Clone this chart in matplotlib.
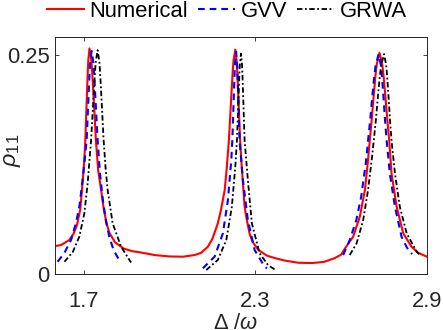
import matplotlib
matplotlib.use('Agg')
import matplotlib.pyplot as plt

# Numerical (full sweep)
num_x = [1.600, 1.621, 1.650, 1.665, 1.677, 1.6885, 1.6965, 1.702, 1.706, 1.7089, 1.7117, 1.7146, 1.7164,
         1.7205, 1.7268, 1.7297, 1.7342, 1.7385, 1.743, 1.751, 1.761, 1.770, 1.780, 1.790, 1.810,
         1.840, 1.870, 1.900, 1.950, 2.000, 2.047, 2.088, 2.110, 2.134, 2.150, 2.169, 2.180, 2.193,
         2.200, 2.2077, 2.2122, 2.2164, 2.2209, 2.2238, 2.230, 2.2348, 2.237, 2.2404, 2.2436, 2.247,
         2.252, 2.2627, 2.270, 2.280, 2.290, 2.310, 2.340, 2.370, 2.400, 2.450, 2.500, 2.540, 2.577,
         2.600, 2.613, 2.642, 2.665, 2.683, 2.694, 2.700, 2.7068, 2.7133, 2.7201, 2.7245, 2.734,
         2.7435, 2.7479, 2.7547, 2.7612, 2.768, 2.776, 2.794, 2.817, 2.846, 2.870, 2.900]
num_y = [0.0318, 0.033, 0.0387, 0.046, 0.056, 0.074, 0.105, 0.128, 0.152, 0.180, 0.2056, 0.231, 0.244,
         0.257, 0.244, 0.231, 0.2056, 0.180, 0.152, 0.118, 0.096, 0.075, 0.058, 0.047, 0.036,
         0.029, 0.026, 0.0245, 0.0215, 0.0200, 0.0197, 0.0216, 0.024, 0.031, 0.040, 0.0577, 0.073, 0.0956,
         0.120, 0.152, 0.179, 0.2045, 0.230, 0.243, 0.2556, 0.243, 0.230, 0.2045, 0.179, 0.152,
         0.125, 0.0766, 0.062, 0.046, 0.037, 0.0275, 0.021, 0.018, 0.0155, 0.0128, 0.0125, 0.0138, 0.018,
         0.022, 0.029, 0.0425, 0.065, 0.0956, 0.130, 0.152, 0.176, 0.2016, 0.2268, 0.239, 0.252,
         0.239, 0.2268, 0.2016, 0.176, 0.152, 0.1146, 0.0766, 0.0463, 0.031, 0.024, 0.0197]

# GVV, one piece per resonance
gvv_x1 = [1.609, 1.632, 1.656, 1.673, 1.685, 1.6965, 1.7105, 1.714, 1.7173, 1.7208, 1.7231, 1.728,
          1.7339, 1.7366, 1.7408, 1.7448, 1.749, 1.757, 1.767, 1.777, 1.790, 1.805, 1.826]
gvv_y1 = [0.014, 0.0235, 0.0387, 0.0577, 0.0766, 0.107, 0.152, 0.178, 0.203, 0.2286, 0.241, 0.254,
          0.241, 0.2286, 0.203, 0.178, 0.152, 0.115, 0.085, 0.062, 0.042, 0.027, 0.015]
gvv_x2 = [2.1167, 2.1577, 2.1867, 2.2042, 2.216, 2.2196, 2.2223, 2.2248, 2.2275, 2.2292, 2.233,
          2.2364, 2.2379, 2.2403, 2.2426, 2.245, 2.2567, 2.274, 2.2977, 2.3327, 2.341]
gvv_y2 = [0.0065, 0.0197, 0.0463, 0.084, 0.1297, 0.152, 0.177, 0.2024, 0.2277, 0.240, 0.253,
          0.240, 0.2277, 0.2024, 0.177, 0.152, 0.107, 0.0614, 0.0273, 0.0083, 0.0065]
gvv_x3 = [2.607, 2.630, 2.653, 2.670, 2.686, 2.694, 2.7014, 2.7084, 2.7158, 2.7206, 2.731,
          2.7388, 2.7425, 2.7481, 2.7534, 2.759, 2.770, 2.788, 2.811, 2.830, 2.848]
gvv_y3 = [0.0216, 0.0387, 0.0614, 0.088, 0.126, 0.152, 0.175, 0.2004, 0.2255, 0.238, 0.2505,
          0.238, 0.2255, 0.2004, 0.175, 0.152, 0.1146, 0.0766, 0.0425, 0.030, 0.0227]

# GRWA
grwa_x1 = [1.633, 1.662, 1.685, 1.7025, 1.714, 1.726, 1.7306, 1.735, 1.7396, 1.7426, 1.749,
           1.7549, 1.7576, 1.7618, 1.7658, 1.770, 1.777, 1.784, 1.8015, 1.831, 1.866]
grwa_y1 = [0.014, 0.025, 0.0425, 0.069, 0.103, 0.152, 0.1785, 0.204, 0.2295, 0.242, 0.255,
           0.242, 0.2295, 0.204, 0.1785, 0.152, 0.12, 0.0956, 0.0577, 0.031, 0.013]
grwa_x2 = [2.1285, 2.169, 2.1986, 2.218, 2.230, 2.2357, 2.2386, 2.2413, 2.2441, 2.246, 2.250,
           2.2536, 2.2552, 2.2577, 2.2602, 2.2627, 2.274, 2.288, 2.315, 2.345, 2.371]
grwa_y2 = [0.0045, 0.016, 0.0387, 0.0766, 0.122, 0.152, 0.176, 0.2008, 0.226, 0.2385, 0.251,
           0.2385, 0.226, 0.2008, 0.176, 0.152, 0.107, 0.0577, 0.0235, 0.010, 0.0045]
grwa_x3 = [2.630, 2.654, 2.677, 2.694, 2.708, 2.714, 2.7212, 2.728, 2.7352, 2.7399, 2.750,
           2.7573, 2.7607, 2.7659, 2.7708, 2.776, 2.788, 2.805, 2.829, 2.864, 2.875]
grwa_y3 = [0.0216, 0.035, 0.0614, 0.0956, 0.1335, 0.152, 0.175, 0.2004, 0.2255, 0.238, 0.2505,
           0.238, 0.2255, 0.2004, 0.175, 0.152, 0.1146, 0.0766, 0.0463, 0.0254, 0.0216]

x_ticks = [1.7, 2.3, 2.9]
y_ticks = [0, 0.25]

plt.rcParams['font.family'] = ['Liberation Sans', 'DejaVu Sans']
plt.rcParams['mathtext.fontset'] = 'custom'
plt.rcParams['mathtext.rm'] = 'Liberation Sans'
plt.rcParams['mathtext.it'] = 'Liberation Sans:italic'
fs = 15.8
dark = '#262626'

fig = plt.figure(figsize=(4.43, 3.30), dpi=100)
ax = fig.add_axes([55/443, 1-274/330, 372/443, 237/330])

dash_blue = (0, (3.2, 2.4))
dash_black = (0, (3.0, 1.4, 1.0, 1.4))

ax.plot(num_x, num_y, color='#ff0000', lw=1.5, label='Numerical')
ln_b = None
for xs, ys in [(gvv_x1, gvv_y1), (gvv_x2, gvv_y2), (gvv_x3, gvv_y3)]:
    ln_b, = ax.plot(xs, ys, color='#0000ff', lw=1.5, linestyle=dash_blue)
ln_b.set_label('GVV')
for xs, ys in [(grwa_x1, grwa_y1), (grwa_x2, grwa_y2), (grwa_x3, grwa_y3)]:
    ln_k, = ax.plot(xs, ys, color='black', lw=1.3, linestyle=dash_black)
ln_k.set_label('GRWA')

ax.set_xlim(1.6, 2.9)
ax.set_ylim(0, 0.27)
ax.set_xticks(x_ticks)
ax.set_xticklabels(['1.7', '2.3', '2.9'])
ax.set_yticks(y_ticks)
ax.set_yticklabels(['0', '0.25'])
ax.tick_params(direction='in', top=True, right=True, length=3, width=0.6,
               colors=dark, labelsize=fs)
ax.tick_params(axis='x', pad=12)
ax.tick_params(axis='y', pad=4)
for s in ax.spines.values():
    s.set_color(dark)
    s.set_linewidth(0.7)

ax.set_xlabel(r'$\Delta$ /$\omega$', fontsize=fs, color=dark)
ax.xaxis.set_label_coords(0.487, -0.165)
ax.set_ylabel(r'$\rho_{11}$', fontsize=fs + 1, color=dark)
ax.yaxis.set_label_coords(-0.085, 0.52)

fig.legend(loc='center', bbox_to_anchor=(0.512, 0.965), ncol=3, frameon=False,
           fontsize=fs, handlelength=1.7, handletextpad=0.25, columnspacing=0.45,
           borderaxespad=0, borderpad=0)

fig.savefig('out.png', dpi=100)
